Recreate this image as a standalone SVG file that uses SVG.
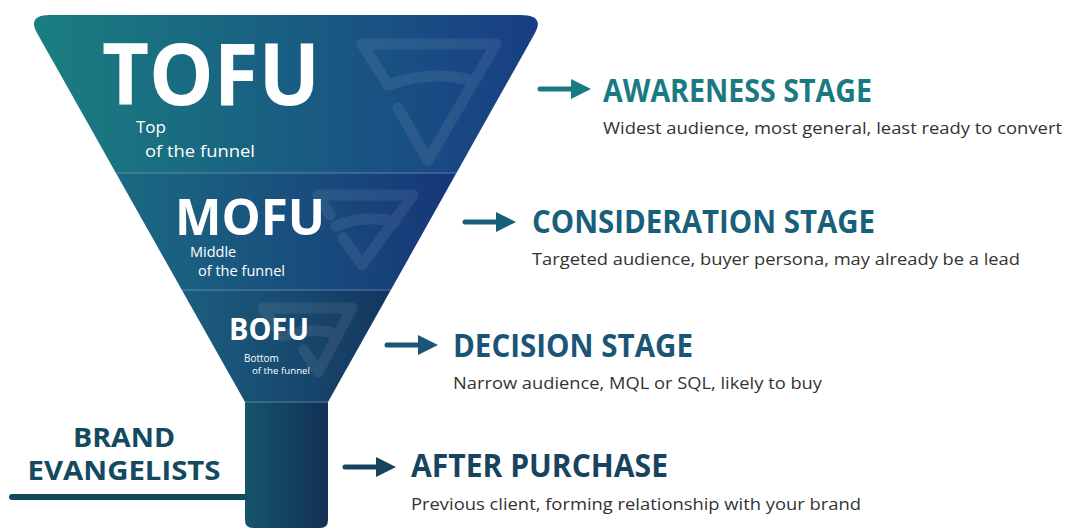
<svg xmlns="http://www.w3.org/2000/svg" width="1066" height="529" viewBox="0 0 1066 529">
<style>
.big{font-family:"Open Sans","Liberation Sans",sans-serif;font-weight:700;fill:#ffffff}
.small{font-family:"Open Sans","Liberation Sans",sans-serif;font-weight:400;fill:#ffffff}
.head{font-family:"Open Sans","Liberation Sans",sans-serif;font-weight:700}
.sub{font-family:"Open Sans","Liberation Sans",sans-serif;font-weight:400;fill:#333333;font-size:17px}
.icon{fill:none;stroke:#ffffff;stroke-opacity:0.08;stroke-width:11;stroke-linecap:round;stroke-linejoin:round}
.sep{stroke:#8fb0cf;stroke-opacity:0.55;stroke-width:1}
.arr{stroke-width:5;stroke-linecap:round;fill:none}
</style>
<defs>
<clipPath id="funnelClip"><path d="M37,33 Q27,15 50,15 L520,15 Q545,15 535,33 L328,402 L245,402 Z"/></clipPath>
<linearGradient id="gT" gradientUnits="userSpaceOnUse" x1="37" y1="0" x2="535" y2="0"><stop offset="0" stop-color="#1a7e80"/><stop offset="1" stop-color="#183e84"/></linearGradient>
<linearGradient id="gM" gradientUnits="userSpaceOnUse" x1="113" y1="0" x2="458" y2="0"><stop offset="0" stop-color="#1b6a82"/><stop offset="1" stop-color="#163679"/></linearGradient>
<linearGradient id="gB" gradientUnits="userSpaceOnUse" x1="182" y1="0" x2="392" y2="0"><stop offset="0" stop-color="#1c5e80"/><stop offset="1" stop-color="#14365e"/></linearGradient>
<linearGradient id="gS" gradientUnits="userSpaceOnUse" x1="245" y1="0" x2="328" y2="0"><stop offset="0" stop-color="#15546a"/><stop offset="1" stop-color="#123056"/></linearGradient>
<marker id="m1" viewBox="0 0 10 10" refX="2" refY="5" markerWidth="4" markerHeight="4.2" orient="auto" markerUnits="strokeWidth"><path d="M0,0 L10,5 L0,10 Z" fill="#1a7a82"/></marker>
<marker id="m2" viewBox="0 0 10 10" refX="2" refY="5" markerWidth="4" markerHeight="4.2" orient="auto" markerUnits="strokeWidth"><path d="M0,0 L10,5 L0,10 Z" fill="#185f7c"/></marker>
<marker id="m3" viewBox="0 0 10 10" refX="2" refY="5" markerWidth="4" markerHeight="4.2" orient="auto" markerUnits="strokeWidth"><path d="M0,0 L10,5 L0,10 Z" fill="#1a5577"/></marker>
<marker id="m4" viewBox="0 0 10 10" refX="2" refY="5" markerWidth="4" markerHeight="4.2" orient="auto" markerUnits="strokeWidth"><path d="M0,0 L10,5 L0,10 Z" fill="#16445f"/></marker>
</defs>

<g id="funnel-bands" clip-path="url(#funnelClip)">
<rect x="0" y="0" width="560" height="173" fill="url(#gT)"/>
<rect x="0" y="173" width="560" height="117" fill="url(#gM)"/>
<rect x="0" y="290" width="560" height="112" fill="url(#gB)"/>
<path class="icon" d="M398,108 L428,160 L496,44 L362,44 L388,85 Q430,70 470,80"/>
<path class="icon" d="M343,238 L362,265 L413,195 L318,195 L330,215 M336,226 Q365,214 395,222"/>
<path class="icon" stroke-width="8" d="M304,350 L318,372 L352,308 L263,308 L275,326 M282,336 Q305,328 330,332"/>
<line class="sep" x1="100" y1="173" x2="470" y2="173"/>
<line class="sep" x1="170" y1="290" x2="400" y2="290"/>
</g>

<g id="tofu">
<text class="big" x="102" y="105" font-size="86" textLength="218" lengthAdjust="spacingAndGlyphs">TOFU</text>
<text class="small" x="136" y="133" font-size="17">Top</text>
<text class="small" x="145" y="157" font-size="17" textLength="110" lengthAdjust="spacingAndGlyphs">of the funnel</text>
</g>
<g id="mofu">
<text class="big" x="175" y="235" font-size="51" textLength="150" lengthAdjust="spacingAndGlyphs">MOFU</text>
<text class="small" x="190" y="257" font-size="14.5">Middle</text>
<text class="small" x="198" y="276" font-size="14" textLength="87" lengthAdjust="spacingAndGlyphs">of the funnel</text>
</g>
<g id="bofu">
<text class="big" x="229" y="340" font-size="30" textLength="80" lengthAdjust="spacingAndGlyphs">BOFU</text>
<text class="small" x="244" y="362" font-size="10">Bottom</text>
<text class="small" x="252" y="374" font-size="9.5" textLength="58" lengthAdjust="spacingAndGlyphs">of the funnel</text>
</g>

<g id="stem">
<path d="M245,402 H328 V520 Q328,528 320,528 H253 Q245,528 245,520 Z" fill="url(#gS)"/>
<line class="sep" x1="245" y1="402" x2="328" y2="402"/>
</g>

<g id="brand-evangelists">
<line x1="12" y1="497" x2="245" y2="497" stroke="#134a60" stroke-width="6" stroke-linecap="round"/>
<text class="head" x="124" y="447" font-size="27" fill="#134a60" text-anchor="middle" textLength="102" lengthAdjust="spacingAndGlyphs">BRAND</text>
<text class="head" x="124" y="480" font-size="27" fill="#134a60" text-anchor="middle" textLength="193" lengthAdjust="spacingAndGlyphs">EVANGELISTS</text>
</g>

<g id="connectors">
<line class="arr" x1="540" y1="89" x2="575" y2="89" stroke="#1a7a82" marker-end="url(#m1)"/>
<line class="arr" x1="465" y1="222" x2="500" y2="222" stroke="#185f7c" marker-end="url(#m2)"/>
<line class="arr" x1="387" y1="345" x2="422" y2="345" stroke="#1a5577" marker-end="url(#m3)"/>
<line class="arr" x1="345" y1="467" x2="380" y2="467" stroke="#16445f" marker-end="url(#m4)"/>
</g>

<g id="awareness">
<text class="head" x="603" y="102" font-size="32" fill="#1a7a82" textLength="269" lengthAdjust="spacingAndGlyphs">AWARENESS STAGE</text>
<text class="sub" x="603" y="134" textLength="459" lengthAdjust="spacingAndGlyphs">Widest audience, most general, least ready to convert</text>
</g>
<g id="consideration">
<text class="head" x="532" y="233" font-size="32" fill="#185f7c" textLength="343" lengthAdjust="spacingAndGlyphs">CONSIDERATION STAGE</text>
<text class="sub" x="532" y="265" textLength="488" lengthAdjust="spacingAndGlyphs">Targeted audience, buyer persona, may already be a lead</text>
</g>
<g id="decision">
<text class="head" x="453" y="357" font-size="32" fill="#1a5577" textLength="240" lengthAdjust="spacingAndGlyphs">DECISION STAGE</text>
<text class="sub" x="453" y="389" textLength="369" lengthAdjust="spacingAndGlyphs">Narrow audience, MQL or SQL, likely to buy</text>
</g>
<g id="after-purchase">
<text class="head" x="411" y="477" font-size="32" fill="#16445f" textLength="257" lengthAdjust="spacingAndGlyphs">AFTER PURCHASE</text>
<text class="sub" x="411" y="510" textLength="450" lengthAdjust="spacingAndGlyphs">Previous client, forming relationship with your brand</text>
</g>
</svg>
